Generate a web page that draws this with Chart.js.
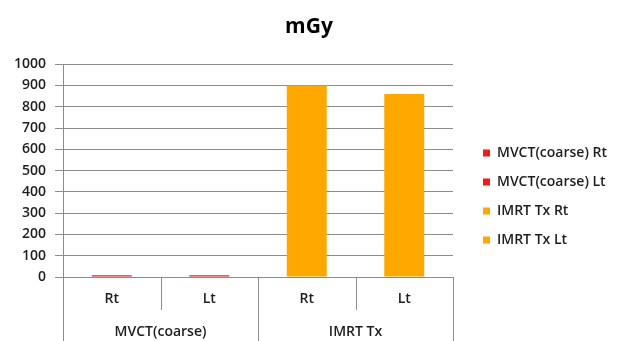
<!DOCTYPE html>
<html>
<head>
<meta charset="utf-8">
<script src="https://cdn.jsdelivr.net/npm/chart.js@4/dist/chart.umd.min.js"></script>
<style>
  html, body { margin: 0; padding: 0; background: #ffffff; }
  #wrap { width: 618px; height: 341px; }
</style>
</head>
<body>
<div id="wrap"><canvas id="c" width="618" height="341"></canvas></div>
<script>
// Dose per measurement point (mGy)
const categories = ['Rt', 'Lt', 'Rt', 'Lt'];
const groups = ['MVCT(coarse)', 'IMRT Tx'];
const groupSpans = [2, 2];
const seriesLabels = ['MVCT(coarse) Rt', 'MVCT(coarse) Lt', 'IMRT Tx Rt', 'IMRT Tx Lt'];
const seriesValues = [8, 8, 900, 860];
const yTicks = [0, 100, 200, 300, 400, 500, 600, 700, 800, 900, 1000];

const seriesColors = ['#EE1C1C', '#EE1C1C', '#FFA800', '#FFA800'];
const FONT = '"Open Sans", "DejaVu Sans", sans-serif';
const TEXT = '#1E1E1E';
const GRID = '#8C8C8C';
const LABEL_FONT = { family: FONT, size: 14, weight: '600' };
const cssFont = f => `${f.weight} ${f.size}px ${f.family}`;

// each series occupies only its own category slot
const datasets = seriesLabels.map((name, i) => ({
  label: name,
  data: categories.map((_, j) => (j === i ? seriesValues[i] : null)),
  backgroundColor: seriesColors[i],
  borderWidth: 0,
  barPercentage: 0.41,
  categoryPercentage: 1
}));

// two-level category axis: separators and group names under the ticks
const groupAxis = {
  id: 'groupAxis',
  afterDraw(chart) {
    const ctx = chart.ctx;
    const x = chart.scales.x;
    const area = chart.chartArea;
    const half = (x.getPixelForValue(1) - x.getPixelForValue(0)) / 2;
    const edge = i => x.getPixelForValue(i) - half;
    const groupEdges = [0];
    groupSpans.forEach(s => groupEdges.push(groupEdges[groupEdges.length - 1] + s));
    ctx.save();
    ctx.strokeStyle = GRID;
    ctx.lineWidth = 1;
    for (let i = 0; i <= categories.length; i++) {
      const px = Math.round(edge(i)) + 0.5;
      const isGroup = groupEdges.includes(i);
      ctx.beginPath();
      ctx.moveTo(px, area.bottom);
      ctx.lineTo(px, isGroup ? chart.height : area.bottom + 33);
      ctx.stroke();
    }
    ctx.fillStyle = TEXT;
    ctx.font = cssFont(LABEL_FONT);
    ctx.textAlign = 'center';
    ctx.textBaseline = 'middle';
    groups.forEach((g, k) => {
      const cx = (edge(groupEdges[k]) + edge(groupEdges[k + 1])) / 2;
      ctx.fillText(g, cx, 332);
    });
    ctx.restore();
  }
};

// legend column to the right of the plot
const sideLegend = {
  id: 'sideLegend',
  afterDraw(chart) {
    const ctx = chart.ctx;
    const left = chart.chartArea.right + 30;
    ctx.save();
    ctx.font = cssFont(LABEL_FONT);
    ctx.textBaseline = 'middle';
    ctx.textAlign = 'left';
    chart.data.datasets.forEach((ds, i) => {
      const cy = 153 + i * 29;
      ctx.fillStyle = ds.backgroundColor;
      ctx.fillRect(left, cy - 3.5, 7, 7);
      ctx.fillStyle = TEXT;
      ctx.fillText(ds.label, left + 14, cy);
    });
    ctx.restore();
  }
};

new Chart(document.getElementById('c'), {
  type: 'bar',
  data: { labels: categories, datasets },
  plugins: [groupAxis, sideLegend],
  options: {
    responsive: false,
    animation: false,
    layout: { padding: 0 },
    plugins: {
      legend: { display: false },
      tooltip: { enabled: false },
      title: {
        display: true,
        text: 'mGy',
        color: '#000000',
        font: { family: FONT, size: 21, weight: 'bold' },
        padding: { top: 14, bottom: 25 }
      }
    },
    scales: {
      x: {
        stacked: true,
        grid: { display: false, drawTicks: false },
        border: { display: true, color: GRID },
        ticks: { color: TEXT, font: LABEL_FONT, padding: 14 },
        afterFit(s) { s.height = 64; }
      },
      y: {
        stacked: true,
        min: 0,
        max: 1000,
        afterBuildTicks(s) { s.ticks = yTicks.map(v => ({ value: v })); },
        ticks: { color: TEXT, font: LABEL_FONT, padding: 9, callback: v => String(v) },
        grid: { color: GRID, tickLength: 8 },
        border: { display: true, color: GRID },
        afterFit(s) { s.width = 63; }
      },
      // reserved column on the right that holds the legend
      side: {
        type: 'linear',
        position: 'right',
        display: true,
        grid: { display: false, drawTicks: false },
        border: { display: false },
        ticks: { display: false },
        afterFit(s) { s.width = 165; }
      }
    }
  }
});
</script>
</body>
</html>
